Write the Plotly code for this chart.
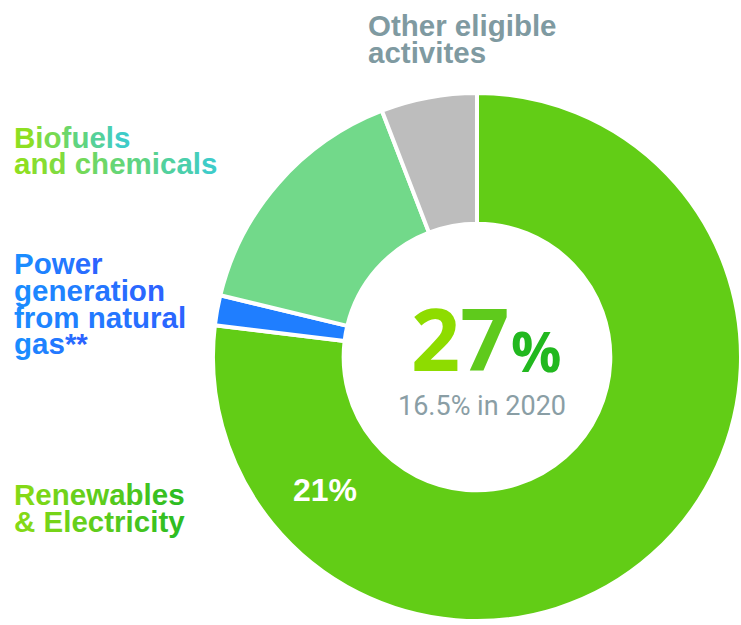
import plotly.graph_objects as go

# ---- data -------------------------------------------------------------
segments = [
    "Renewables & Electricity",
    "Power generation from natural gas**",
    "Biofuels and chemicals",
    "Other eligible activites",
]
shares = [21, 0.5, 4.2, 1.6]          # % of total
share_2020 = 16.5                      # % in 2020

slice_colors = ["#62CD16", "#1F7EFF", "#72D98A", "#BDBDBD"]

W, H = 741, 625


def px(x):
    return x / W


def py(y):
    return 1 - y / H


def hex_to_rgb(h):
    h = h.lstrip("#")
    return tuple(int(h[i:i + 2], 16) for i in (0, 2, 4))


def gradient_text(text, c0, c1):
    """Colour a string character by character from c0 to c1."""
    a, b = hex_to_rgb(c0), hex_to_rgb(c1)
    n = max(len(text) - 1, 1)
    out = []
    for i, ch in enumerate(text):
        t = i / n
        r, g, bl = (round(a[k] + (b[k] - a[k]) * t) for k in range(3))
        out.append(f"<span style='color:rgb({r},{g},{bl})'>{ch}</span>")
    return "".join(out)


fig = go.Figure()

fig.add_trace(go.Pie(
    labels=segments,
    values=shares,
    sort=False,
    direction="clockwise",
    rotation=0,
    hole=0.505,
    marker=dict(colors=slice_colors, line=dict(color="white", width=4)),
    textinfo="none",
    hoverinfo="label+value",
    showlegend=False,
    domain=dict(x=[0.2874, 1.0], y=[0.0, 0.8576]),
))

LABEL_FONT = "Liberation Sans"
annotations = []


def add_line(text, x, y, size, color=None, weight=700, xanchor="left", family=LABEL_FONT):
    font = dict(family=family, size=size, weight=weight)
    if color:
        font["color"] = color
    annotations.append(dict(
        text=text, x=px(x), y=py(y), xref="paper", yref="paper",
        xanchor=xanchor, yanchor="middle", showarrow=False, font=font,
    ))


LS = 29.5  # label font size

# segment names
add_line("Other eligible", 366, 25, LS, "#7F9AA1")
add_line("activites", 366, 53, LS, "#7F9AA1")

add_line(gradient_text("Biofuels", "#8EDF22", "#3ECCC8"), 12, 137, LS)
add_line(gradient_text("and chemicals", "#8EDF22", "#3ECCC8"), 12, 164, LS)

add_line(gradient_text("Power", "#1A8CFF", "#2C63FF"), 12, 263, LS)
add_line(gradient_text("generation", "#1A8CFF", "#2C63FF"), 12, 290, LS)
add_line(gradient_text("from natural", "#1A8CFF", "#2C63FF"), 12, 317, LS)
add_line(gradient_text("gas**", "#1A8CFF", "#2C63FF"), 12, 343, LS)

add_line(gradient_text("Renewables", "#84D916", "#2EBD22"), 12, 494, LS)
add_line(gradient_text("& Electricity", "#84D916", "#2EBD22"), 12, 521, LS)

# value on the renewables slice
add_line(f"{shares[0]:.0f}%", 325, 490, 32, "white", xanchor="center")

# centre figures
total = round(sum(shares))
add_line(gradient_text(str(total), "#8EDC00", "#5FCA1C"), 409, 338, 86, family="Open Sans")
add_line("<span style='color:#22B81F'>%</span>", 509, 350, 56, family="Open Sans")
add_line(f"{share_2020}% in 2020", 482, 406, 27, "#8A9EA5", weight=400,
         xanchor="center", family="Roboto")

fig.update_layout(
    width=W,
    height=H,
    margin=dict(l=0, r=0, t=0, b=0),
    paper_bgcolor="white",
    plot_bgcolor="white",
    annotations=annotations,
)

fig.write_html("out.html")
